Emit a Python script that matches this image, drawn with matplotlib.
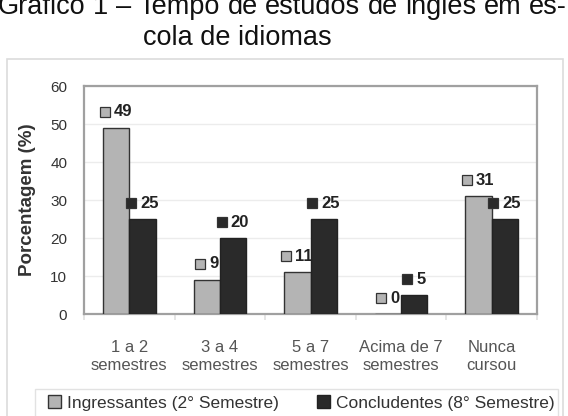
import numpy as np
import matplotlib
matplotlib.use("Agg")
import matplotlib.pyplot as plt
from matplotlib.patches import Rectangle
from matplotlib.transforms import offset_copy

plt.rcParams['font.family'] = ['Liberation Sans', 'DejaVu Sans']

# dados
categorias = ['1 a 2\nsemestres', '3 a 4\nsemestres', '5 a 7\nsemestres',
              'Acima de 7\nsemestres', 'Nunca\ncursou']
ingressantes = [49, 9, 11, 0, 31]
concludentes = [25, 20, 25, 5, 25]
series = ['Ingressantes (2° Semestre)', 'Concludentes (8° Semestre)']
cores = ['#b4b4b4', '#2a2a2a']
titulo1 = 'Gráfico 1 – Tempo de estudos de inglês em es-'
titulo2 = 'cola de idiomas'

W, H = 568, 416
fig = plt.figure(figsize=(W / 100, H / 100), dpi=100)

# moldura externa e moldura da legenda
fig.patches.append(Rectangle((7 / W, -0.05), 556 / W, 1.05 - 59 / H, transform=fig.transFigure,
                             fill=False, edgecolor='#dcdcdc', lw=1.2))
fig.patches.append(Rectangle((35 / W, -0.05), 523 / W, 0.05 + (H - 389) / H, transform=fig.transFigure,
                             fill=False, edgecolor='#e2e2e2', lw=1.0))

# titulo: primeira linha justificada entre x=-2 e x=567 (cortada no topo, como no original)
renderer = fig.canvas.get_renderer()
palavras = titulo1.split(' ')
textos = [fig.text(0, 1 - 14 / H, p, fontsize=19.5, color='#111111', ha='left', va='baseline')
          for p in palavras]
larguras = [t.get_window_extent(renderer).width for t in textos]
esq, dir_ = -2, 567
gap = (dir_ - esq - sum(larguras)) / (len(palavras) - 1)
pos = esq
for t, w in zip(textos, larguras):
    t.set_x(pos / W)
    pos += w + gap
fig.text(143 / W, 1 - 45 / H, titulo2, fontsize=19.5, color='#111111',
         ha='left', va='baseline')

ax = fig.add_axes([84 / W, 1 - 314 / H, (537 - 84) / W, (314 - 86) / H])
x = np.arange(len(categorias))
largura = 0.29
b1 = ax.bar(x - largura / 2, ingressantes, largura, color=cores[0], edgecolor='#333333',
            linewidth=1.0, label=series[0], zorder=3)
b2 = ax.bar(x + largura / 2, concludentes, largura, color=cores[1], edgecolor='#222222',
            linewidth=1.0, label=series[1], zorder=3)

ax.set_xlim(-0.5, len(categorias) - 0.5)
ax.set_ylim(0, 60)
ax.set_yticks(range(0, 61, 10))
ax.yaxis.grid(True, color='#ececec', lw=1.0, zorder=0)
ax.set_axisbelow(True)
ax.tick_params(axis='y', length=0, labelsize=11, labelcolor='#333333', pad=12)
ax.set_xticks(x)
ax.set_xticklabels(categorias, fontsize=12, color='#555555', linespacing=1.25)
ax.tick_params(axis='x', length=0, pad=19)
ax.set_xticks(np.arange(len(categorias) + 1) - 0.5, minor=True)
ax.tick_params(axis='x', which='minor', length=4, color='#e0e0e0', width=1.2)
for s in ax.spines.values():
    s.set_color('#a0a0a0')
    s.set_linewidth(1.6)
ax.set_ylabel('Porcentagem (%)', fontsize=13.5, fontweight='bold', color='#333333', labelpad=10)

# rótulos de dados com chave de legenda
for barras, valores, cor in [(b1, ingressantes, cores[0]), (b2, concludentes, cores[1])]:
    for b, v in zip(barras, valores):
        cx = b.get_x() + b.get_width() / 2
        y = v + 4.2
        tw = len(str(v)) * 9.5
        total = 10 + 4 + tw
        x0 = -total / 2
        tr = offset_copy(ax.transData, fig=fig, x=x0 + 5, y=0, units='dots')
        ax.plot([cx], [y], marker='s', markersize=7, color=cor, markeredgecolor='#333333',
                markeredgewidth=0.9, transform=tr, clip_on=False, zorder=4)
        ax.annotate(str(v), (cx, y), xytext=(x0 + 14, 0), textcoords='offset pixels',
                    ha='left', va='center', fontsize=12, fontweight='bold', color='#222222')

fig.legend(handles=[b1, b2], labels=series, loc='center', bbox_to_anchor=(301 / W, 1 - 403 / H),
           ncol=2, frameon=False, fontsize=12.5, handlelength=0.75, handleheight=0.75,
           handletextpad=0.35, columnspacing=2.2, labelcolor='#333333')

fig.savefig('out.png', dpi=100)
